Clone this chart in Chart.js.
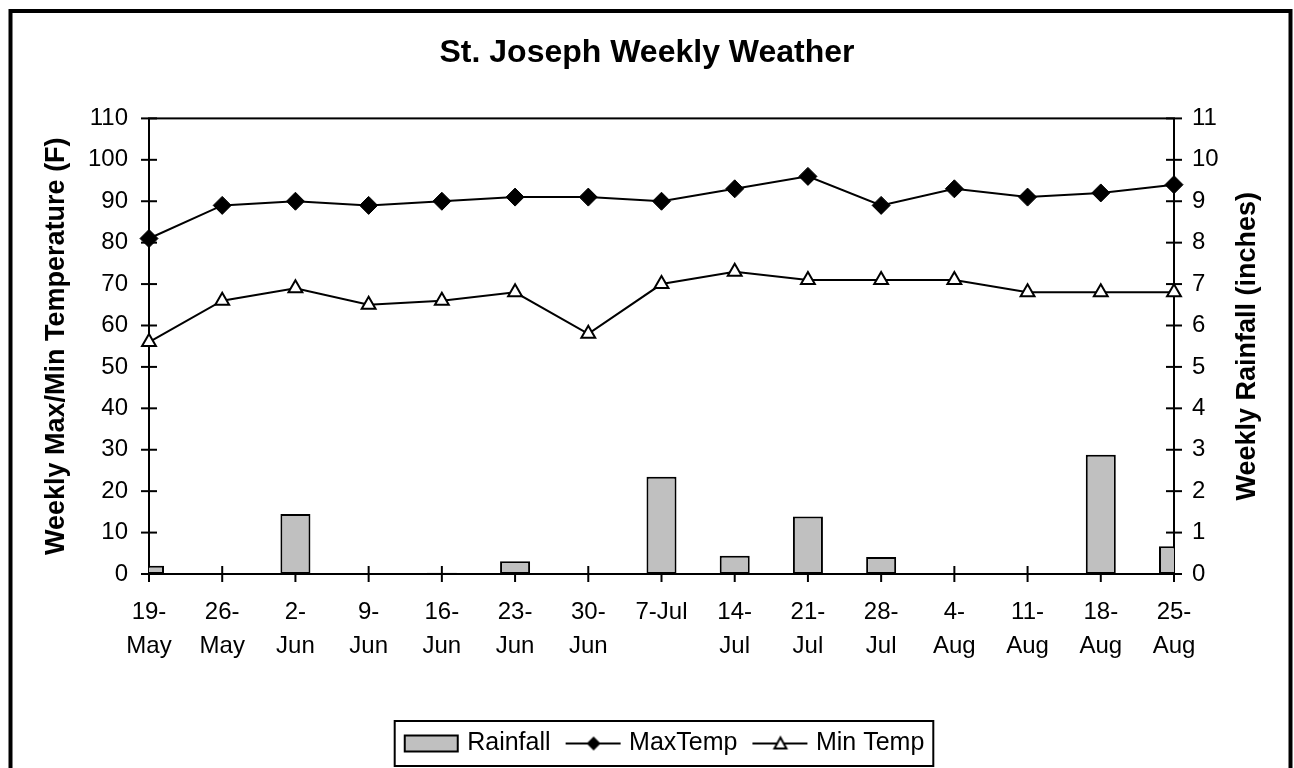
<!DOCTYPE html>
<html lang="en">
<head>
  <title>St. Joseph Weekly Weather</title>
  <script src="https://cdn.jsdelivr.net/npm/chart.js"></script>
  <style>
    body { margin: 0; background: #fff; }
    .wrap { width: 1294px; height: 768px; }
  </style>
</head>
<body>
<div class="wrap"><canvas id="weatherChart" width="1294" height="768"></canvas></div>
<script>
  // weekly values
  const weeks = ['19-May', '26-May', '2-Jun', '9-Jun', '16-Jun', '23-Jun', '30-Jun', '7-Jul',
    '14-Jul', '21-Jul', '28-Jul', '4-Aug', '11-Aug', '18-Aug', '25-Aug'];
  const weekTicks = [['19-', 'May'], ['26-', 'May'], ['2-', 'Jun'], ['9-', 'Jun'], ['16-', 'Jun'],
    ['23-', 'Jun'], ['30-', 'Jun'], ['7-Jul'], ['14-', 'Jul'], ['21-', 'Jul'], ['28-', 'Jul'],
    ['4-', 'Aug'], ['11-', 'Aug'], ['18-', 'Aug'], ['25-', 'Aug']];
  const rainfall = [0.2, 0, 1.45, 0, 0.03, 0.31, 0, 2.35, 0.44, 1.39, 0.41, 0, 0, 2.88, 0.67];
  const maxTemp = [81, 89, 90, 89, 90, 91, 91, 90, 93, 96, 89, 93, 91, 92, 94];
  const minTemp = [56, 66, 69, 65, 66, 68, 58, 70, 73, 71, 71, 71, 68, 68, 68];
  const tempRange = [0, 110, 10];
  const rainRange = [0, 11, 1];

  const FONT = 'Liberation Sans, Arial, sans-serif';

  // legend icons: line + marker, or grey swatch
  function legendIcon(kind) {
    const c = document.createElement('canvas');
    c.width = 66; c.height = 24;
    const g = c.getContext('2d');
    g.strokeStyle = '#000';
    g.lineWidth = 2;
    if (kind === 'bar') {
      g.fillStyle = '#c0c0c0';
      g.fillRect(11, 4, 53, 16);
      g.strokeRect(11, 4, 53, 16);
      return c;
    }
    g.beginPath(); g.moveTo(10, 12); g.lineTo(65, 12); g.stroke();
    const cx = 38, cy = 12;
    g.beginPath();
    if (kind === 'diamond') {
      g.moveTo(cx, cy - 7); g.lineTo(cx + 7, cy); g.lineTo(cx, cy + 7); g.lineTo(cx - 7, cy);
      g.closePath();
      g.fillStyle = '#000'; g.fill();
    } else {
      g.moveTo(cx, cy - 6); g.lineTo(cx + 6, cy + 5); g.lineTo(cx - 6, cy + 5);
      g.closePath();
      g.fillStyle = '#fff'; g.fill(); g.stroke();
    }
    return c;
  }
  const icons = [legendIcon('bar'), legendIcon('diamond'), legendIcon('triangle')];

  const decorations = {
    id: 'decorations',
    beforeDraw(chart) {
      const ctx = chart.ctx;
      ctx.save();
      ctx.fillStyle = '#fff';
      ctx.fillRect(0, 0, chart.width, chart.height);
      ctx.restore();
    },
    beforeDatasetsDraw(chart) {
      const {ctx, chartArea: a, scales} = chart;
      ctx.save();
      ctx.strokeStyle = '#000';
      ctx.lineWidth = 2;
      ctx.strokeRect(a.left, a.top, a.right - a.left, a.bottom - a.top);
      const mark = (scale, horizontal, pos) => {
        scale.ticks.forEach((t, i) => {
          const p = scale.getPixelForTick(i);
          ctx.beginPath();
          if (horizontal) { ctx.moveTo(p, pos - 8); ctx.lineTo(p, pos + 8); }
          else { ctx.moveTo(pos - 8, p); ctx.lineTo(pos + 8, p); }
          ctx.stroke();
        });
      };
      mark(scales.x, true, a.bottom);
      mark(scales.y, false, a.left);
      mark(scales.y1, false, a.right);
      ctx.restore();
    },
    afterDraw(chart) {
      const {ctx, chartArea: a, legend} = chart;
      ctx.save();
      // right axis title, reading upwards
      ctx.translate(1248, (a.top + a.bottom) / 2);
      ctx.rotate(-Math.PI / 2);
      ctx.font = 'bold 27px ' + FONT;
      ctx.fillStyle = '#000';
      ctx.textAlign = 'center';
      ctx.textBaseline = 'middle';
      ctx.fillText('Weekly Rainfall (inches)', 0, 0);
      ctx.restore();

      ctx.save();
      ctx.strokeStyle = '#000';
      const hb = legend.legendHitBoxes;
      if (hb && hb.length) {
        const last = hb[hb.length - 1];
        const left = hb[0].left - 4;
        const right = last.left + last.width + 9;
        ctx.lineWidth = 2;
        ctx.strokeRect(left, hb[0].top - 10, right - left, last.height + 20);
      }
      ctx.lineWidth = 4;
      ctx.strokeRect(10.5, 11, 1280, 760);
      ctx.restore();
    }
  };

  new Chart(document.getElementById('weatherChart'), {
    type: 'bar',
    data: {
      labels: weekTicks,
      datasets: [{
        label: 'Rainfall',
        data: rainfall,
        yAxisID: 'y1',
        backgroundColor: '#c0c0c0',
        borderColor: '#000',
        borderWidth: 2,
        borderSkipped: false,
        barPercentage: 0.41,
        categoryPercentage: 1,
        clip: 0
      }, {
        type: 'line',
        label: 'MaxTemp',
        data: maxTemp,
        yAxisID: 'y',
        borderColor: '#000',
        borderWidth: 2,
        tension: 0,
        pointStyle: 'rectRot',
        pointRadius: 9,
        pointBackgroundColor: '#000',
        pointBorderColor: '#000',
        pointBorderWidth: 1,
        clip: false
      }, {
        type: 'line',
        label: 'Min Temp',
        data: minTemp,
        yAxisID: 'y',
        borderColor: '#000',
        borderWidth: 2,
        tension: 0,
        pointStyle: 'triangle',
        pointRadius: 8,
        pointBackgroundColor: '#fff',
        pointBorderColor: '#000',
        pointBorderWidth: 2,
        clip: false
      }]
    },
    options: {
      responsive: false,
      animation: false,
      devicePixelRatio: 1,
      layout: { padding: { top: 0, right: 0, bottom: 2, left: 0 } },
      plugins: {
        tooltip: { enabled: false },
        title: {
          display: true,
          text: 'St. Joseph Weekly Weather',
          color: '#000',
          font: { family: FONT, size: 32, weight: 'bold', lineHeight: 1.2 },
          padding: { top: 34, bottom: 46 }
        },
        legend: {
          position: 'bottom',
          fullSize: false,
          labels: {
            color: '#000',
            font: { family: FONT, size: 25 },
            usePointStyle: true,
            pointStyleWidth: 56,
            padding: 10,
            generateLabels: chart => chart.data.datasets.map((ds, i) => ({
              text: ds.label,
              pointStyle: icons[i],
              datasetIndex: i,
              hidden: false,
              fontColor: '#000',
              lineWidth: 0,
              strokeStyle: '#000',
              fillStyle: '#000'
            }))
          }
        }
      },
      scales: {
        x: {
          type: 'category',
          offset: false,
          grid: { display: false, drawTicks: false },
          border: { display: false },
          ticks: {
            color: '#000',
            font: { family: FONT, size: 24, lineHeight: 1.4 },
            padding: 22,
            maxRotation: 0,
            autoSkip: false
          },
          afterFit: s => { s.height = 147; }
        },
        y: {
          position: 'left',
          min: tempRange[0],
          max: tempRange[1],
          grid: { display: false, drawTicks: false },
          border: { display: false },
          ticks: {
            stepSize: tempRange[2],
            color: '#000',
            font: { family: FONT, size: 24 },
            padding: 21
          },
          title: {
            display: true,
            text: 'Weekly Max/Min Temperature (F)',
            color: '#000',
            font: { family: FONT, size: 27, weight: 'bold', lineHeight: 1.2 },
            padding: { top: 40, bottom: 0 }
          },
          afterFit: s => { s.width = 149; }
        },
        y1: {
          position: 'right',
          min: rainRange[0],
          max: rainRange[1],
          grid: { display: false, drawTicks: false },
          border: { display: false },
          ticks: {
            stepSize: rainRange[2],
            color: '#000',
            font: { family: FONT, size: 24 },
            padding: 18
          },
          afterFit: s => { s.width = 120; }
        }
      }
    },
    plugins: [decorations]
  });
</script>
</body>
</html>
